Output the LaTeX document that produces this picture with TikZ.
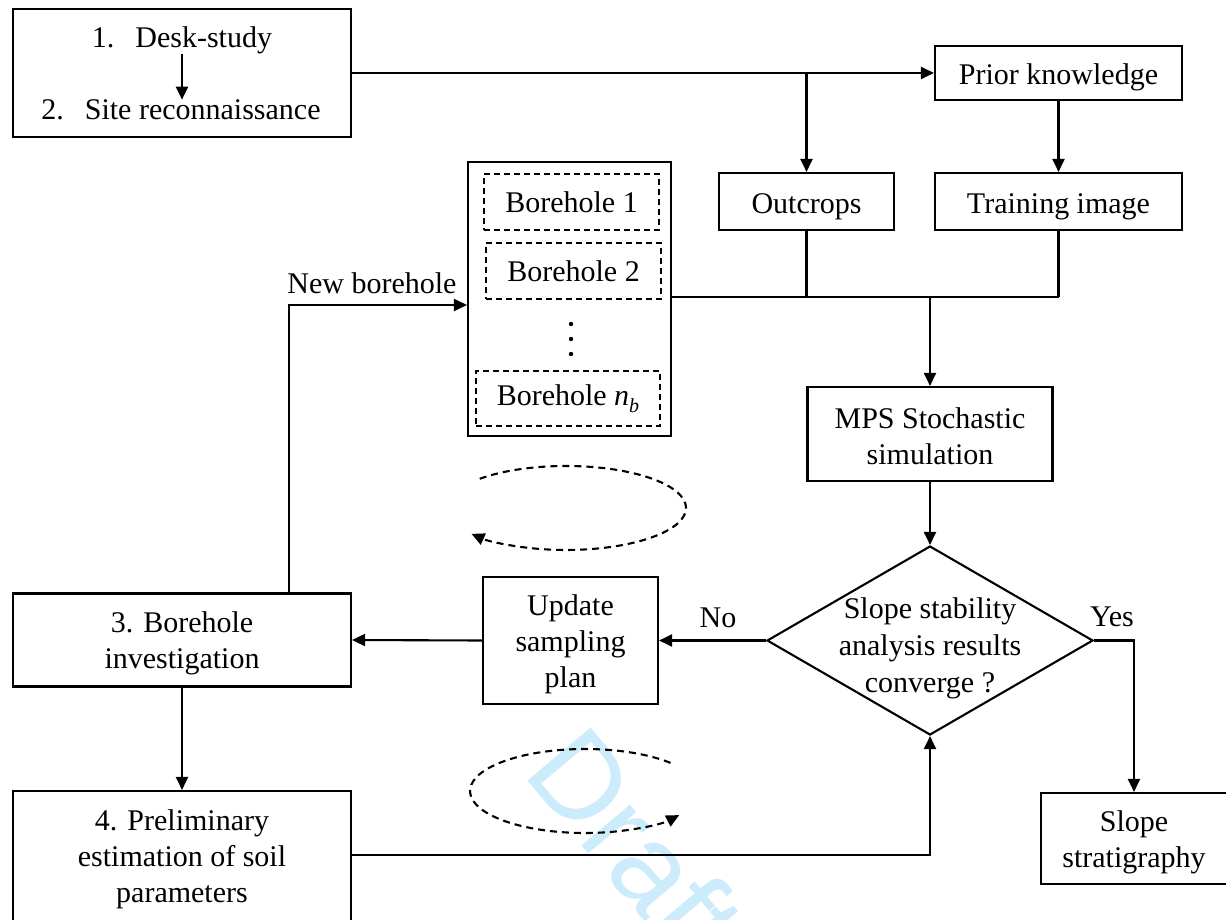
\documentclass[tikz,border=0pt]{standalone}
\usepackage{fontspec}
\setmainfont{Liberation Serif}
\newfontfamily\wmfont{Liberation Sans}
\usetikzlibrary{arrows.meta,shapes.geometric}
\definecolor{wm}{RGB}{204,236,252}
\newcommand{\pushdown}[1]{\rule{0pt}{#1pt}}
\begin{document}
\begin{tikzpicture}[x=1pt,y=-1pt,
 every node/.style={font=\fontsize{30}{36}\selectfont},
 box/.style={draw,line width=2.1pt,rectangle,inner sep=0pt,align=center},
 dbox/.style={draw,line width=2.1pt,dash pattern=on 6pt off 4pt,inner sep=0pt,align=center},
 txt/.style={inner sep=0pt,align=center},
 arr/.style={line width=2.1pt,-{Triangle[length=13pt,width=12pt]}},
 ln/.style={line width=2.1pt},
 loopar/.style={line width=2.1pt,dash pattern=on 7pt off 5pt,-{Triangle[length=13pt,width=12pt]}}
]
\useasboundingbox (0,0) rectangle (1226,920);
\clip (0,0) rectangle (1226,920);

% watermark
\node[txt,anchor=base west,rotate=-50,text=wm,font=\wmfont\fontsize{120}{120}\selectfont] (wmark) at (521,773) {Draft};

% top-left box
\node[box,minimum width=338pt,minimum height=128pt] (b1) at (182,73) {};
\node[txt] (t1) at (182,40) {1.\hspace{0.7em}Desk-study};
\node[txt] (t2) at (181,110) {2.\hspace{0.7em}Site reconnaissance};
\draw[arr] (t1.south) -- (t1.south |- t2.north);

% prior knowledge etc.
\node[box,minimum width=247pt,minimum height=54pt] (pk) at (1058.5,73) {\pushdown{30}Prior knowledge};
\node[box,minimum width=175pt,minimum height=57pt] (oc) at (806.5,201.5) {\pushdown{30}Outcrops};
\node[box,minimum width=247pt,minimum height=57pt] (ti) at (1058.5,201.5) {\pushdown{30}Training image};
\draw[arr] (b1.east) -- (pk.west);
\draw[arr] (b1.east -| oc.north) -- (oc.north);
\draw[arr] (pk) -- (ti);

% borehole container
\node[box,minimum width=203pt,minimum height=274pt] (bc) at (569.5,299) {};
\node[dbox,minimum width=175pt,minimum height=56pt] (bh1) at (571.5,202) {Borehole 1};
\node[dbox,minimum width=175pt,minimum height=56pt] (bh2) at (573.5,271) {Borehole 2};
\fill (571,324) circle (2.2pt) (571,339) circle (2.2pt) (571,354) circle (2.2pt);
\node[dbox,minimum width=184pt,minimum height=55pt] (bhn) at (568,398.5) {Borehole \textit{n}\raisebox{-0.22em}{\fontsize{20}{20}\selectfont\textit{b}}};

% junction to MPS
\coordinate (jm) at (930,297);
\node[box,minimum width=245pt,minimum height=94pt] (mps) at (930,434) {\pushdown{26}MPS Stochastic\\simulation};
\draw[ln] (bc.east |- jm) -- (ti.south |- jm);
\draw[ln] (oc.south) -- (oc.south |- jm);
\draw[ln] (ti.south) -- (ti.south |- jm);
\draw[arr] (jm) -- (mps.north);

% decision
\node[diamond,draw,line width=2.1pt,inner sep=0pt,minimum width=326pt,minimum height=189pt] (dm) at (930,640.5) {};
\node[txt] (dmt) at (930,648) {Slope stability\\[1pt]analysis results\\[1pt]converge ?};
\draw[arr] (mps.south) -- (dm.north);

% update
\node[box,minimum width=175pt,minimum height=127pt] (up) at (570.5,640.5) {\pushdown{28}Update\\sampling\\plan};
\draw[arr] (dm.west) -- (up.east);
\node[txt] (no) at (718,618) {No};

% borehole investigation
\node[box,minimum width=338pt,minimum height=93pt] (b3) at (182,640) {\pushdown{27}3. Borehole\\investigation};
\draw[arr] (up.west) -- (b3.east);
\coordinate (nb) at (289,305);
\draw[arr] (b3.north -| nb) -- (nb) -- (bc.west |- nb);
\node[txt] (nbl) at (372,283) {New borehole};

% preliminary estimation
\node[box,minimum width=338pt,minimum height=130pt] (b4) at (182,856) {\pushdown{27}4. Preliminary\\estimation of soil\\parameters};
\draw[arr] (b3) -- (b4);
\coordinate (bj) at (930,855);
\draw[arr] (b4.east |- bj) -- (bj) -- (dm.south);

% slope stratigraphy
\node[box,minimum width=186pt,minimum height=91pt] (ss) at (1134,838.5) {\pushdown{28}Slope\\stratigraphy};
\draw[arr] (dm.east) -- (dm.east -| ss.north) -- (ss.north);
\node[txt] (yes) at (1112,617) {Yes};

% dashed loops
\draw[loopar] (479.7,478.8) arc[start angle=136,end angle=-142,x radius=120pt,y radius=42pt];
\draw[loopar] (670.5,762.9) arc[start angle=42,end angle=325,x radius=115pt,y radius=42pt];
\end{tikzpicture}
\end{document}
